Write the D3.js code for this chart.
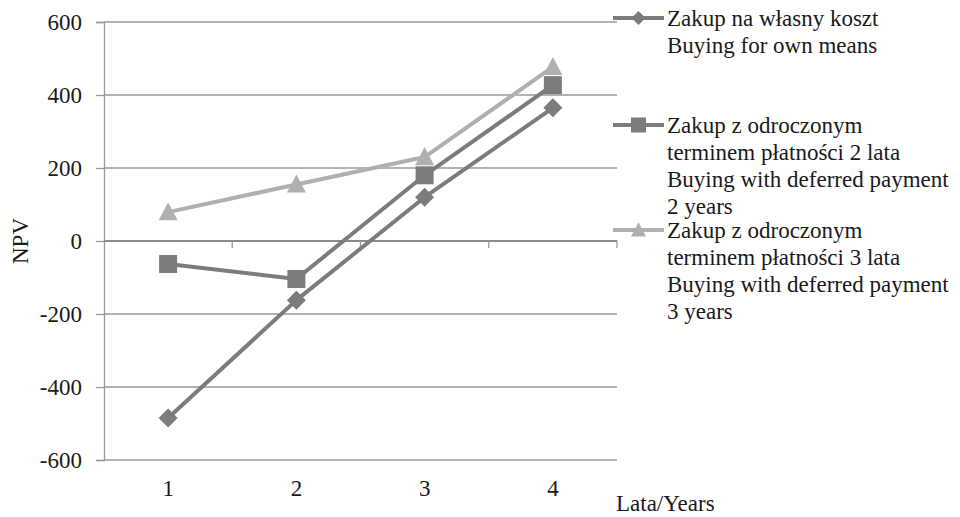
<!DOCTYPE html>
<html>
<head>
<meta charset="utf-8">
<script src="https://cdn.jsdelivr.net/npm/d3@7"></script>
<style>
  html, body { margin: 0; padding: 0; background: #fff; }
  svg { display: block; }
  svg text { font-family: "Liberation Serif", "DejaVu Serif", "Times New Roman", serif !important; fill: #1a1a1a; }
</style>
</head>
<body>
<svg id="chart" width="960" height="517"></svg>
<script>
// ---- data ----
const categories = ["1", "2", "3", "4"];
const yTicks = [-600, -400, -200, 0, 200, 400, 600];
const seriesNames = ["own", "deferred2", "deferred3"];
const ownMeans = [-485, -162, 120, 365];
const deferred2 = [-63, -104, 180, 427];
const deferred3 = [79, 155, 230, 477];
const legendOwn = ["Zakup na własny koszt", "Buying for own means"];
const legendDeferred2 = ["Zakup z odroczonym", "terminem płatności 2 lata", "Buying with deferred payment", "2 years"];
const legendDeferred3 = ["Zakup z odroczonym", "terminem płatności 3 lata", "Buying with deferred payment", "3 years"];
const yTitle = "NPV";
const xTitle = "Lata/Years";

// ---- setup ----
const svg = d3.select("#chart");
const plotLeft = 104, plotRight = 617, plotTop = 22, plotBottom = 460;
const x = d3.scaleBand().domain(categories).range([plotLeft, plotRight]).padding(0);
const y = d3.scaleLinear().domain([-600, 600]).range([plotBottom, plotTop]);
const cx = c => x(c) + x.bandwidth() / 2;

const dark = "#7c7c7c", light = "#b0b0b0", grid = "#9a9a9a";
const fs = 23;
const serif = '"Liberation Serif", "DejaVu Serif", serif';

const series = [
  { name: seriesNames[0], values: ownMeans, color: dark, marker: "diamond", legend: legendOwn, ly: 18 },
  { name: seriesNames[1], values: deferred2, color: dark, marker: "square", legend: legendDeferred2, ly: 125 },
  { name: seriesNames[2], values: deferred3, color: light, marker: "triangle", legend: legendDeferred3, ly: 230 }
];

// gridlines
svg.append("g").selectAll("line").data(yTicks.filter(d => d !== 0)).join("line")
  .attr("x1", plotLeft).attr("x2", plotRight)
  .attr("y1", d => y(d)).attr("y2", d => y(d))
  .attr("stroke", grid).attr("stroke-width", 1.3);

// y axis
const yAxis = svg.append("g").attr("transform", `translate(${plotLeft},0)`)
  .call(d3.axisLeft(y).tickValues(yTicks).tickSize(8).tickPadding(14).tickFormat(d => String(d)));
yAxis.attr("font-family", null).attr("font-size", null);
yAxis.select(".domain").attr("stroke", grid).attr("stroke-width", 1.3);
yAxis.selectAll(".tick line").attr("stroke", grid).attr("stroke-width", 1.3);
yAxis.selectAll(".tick text").attr("font-size", fs).style("font-family", serif).attr("fill", "#1a1a1a");

// x axis at zero (boundary ticks)
const zeroG = svg.append("g");
zeroG.append("line").attr("x1", plotLeft).attr("x2", plotRight).attr("y1", y(0)).attr("y2", y(0))
  .attr("stroke", "#8c8c8c").attr("stroke-width", 1.8);
zeroG.selectAll("line.tk").data(categories.slice(1).concat(["end"])).join("line").attr("class", "tk")
  .attr("x1", d => d === "end" ? plotRight : x(d)).attr("x2", d => d === "end" ? plotRight : x(d))
  .attr("y1", y(0)).attr("y2", y(0) + 7)
  .attr("stroke", grid).attr("stroke-width", 1.3);

// category labels at bottom
const xAxis = svg.append("g").attr("transform", `translate(0,${plotBottom})`)
  .call(d3.axisBottom(x).tickSize(0).tickPadding(20));
xAxis.attr("font-family", null).attr("font-size", null);
xAxis.select(".domain").remove();
xAxis.selectAll(".tick text").attr("font-size", fs).style("font-family", serif).attr("fill", "#1a1a1a");

// axis titles
svg.append("text").attr("transform", `translate(28,241) rotate(-90)`)
  .attr("text-anchor", "middle").attr("font-size", fs).style("font-family", serif).text(yTitle);
svg.append("text").attr("x", 616).attr("y", 511).attr("font-size", fs).style("font-family", serif).text(xTitle);

// markers
function drawMarker(g, type, color, px, py, s) {
  if (type === "diamond") {
    const r = s;
    g.append("path").attr("d", `M${px},${py - r}L${px + r},${py}L${px},${py + r}L${px - r},${py}Z`).attr("fill", color);
  } else if (type === "square") {
    g.append("rect").attr("x", px - s).attr("y", py - s).attr("width", 2 * s).attr("height", 2 * s).attr("fill", color);
  } else {
    const h = s * 1.9;
    g.append("path").attr("d", `M${px},${py - h * 0.55}L${px + s},${py + h * 0.45}L${px - s},${py + h * 0.45}Z`).attr("fill", color);
  }
}

const line = d3.line().x((d, i) => cx(categories[i])).y(d => y(d));

// lines
const drawOrder = [2, 1, 0];
drawOrder.forEach(i => {
  const s = series[i];
  svg.append("path").datum(s.values).attr("d", line)
    .attr("fill", "none").attr("stroke", s.color).attr("stroke-width", 4).attr("stroke-linejoin", "round");
});
// markers
const mg = svg.append("g");
const sizes = { diamond: 9.5, square: 9, triangle: 9.5 };
drawOrder.forEach(i => {
  const s = series[i];
  s.values.forEach((v, j) => drawMarker(mg, s.marker, s.color, cx(categories[j]), y(v), sizes[s.marker]));
});

// legend
const lg = svg.append("g");
series.forEach(s => {
  lg.append("line").attr("x1", 613).attr("x2", 664).attr("y1", s.ly).attr("y2", s.ly)
    .attr("stroke", s.color).attr("stroke-width", 4);
  drawMarker(lg, s.marker, s.color, 638.5, s.ly, s.marker === "diamond" ? 7 : 7.5);
  lg.selectAll(null).data(s.legend).join("text")
    .attr("x", 667).attr("y", (d, k) => s.ly + k * 27.3)
    .attr("dy", "0.33em").attr("font-size", fs).style("font-family", serif).text(d => d);
});
</script>
</body>
</html>
